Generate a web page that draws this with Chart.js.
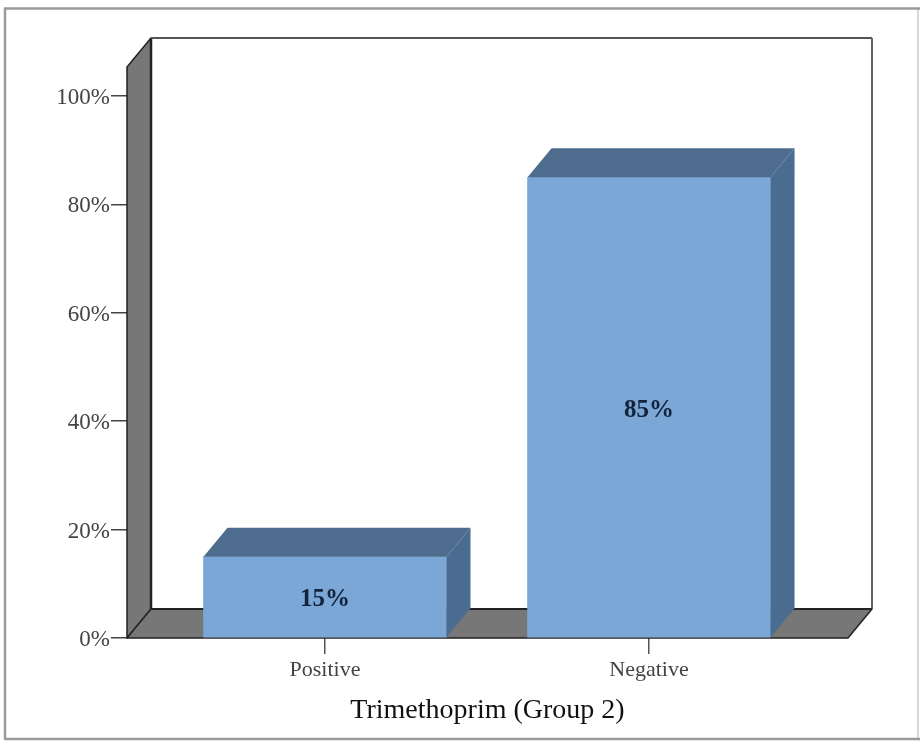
<!DOCTYPE html>
<html><head><meta charset="utf-8">
<style>html,body{margin:0;padding:0;background:#fff}#w{width:920px;height:741px;position:relative}canvas{filter:blur(0.5px)}</style>
<script src="https://cdn.jsdelivr.net/npm/chart.js@4"></script>
</head><body><div id="w"><canvas id="c"></canvas></div>
<script>
const categories = ["Positive", "Negative"];
const percentages = [15, 85];
const yTicks = [0, 20, 40, 60, 80, 100];
const xTitle = "Trimethoprim (Group 2)";
const FONT = '"Liberation Serif", serif';
const DX = 24, DY = -29;
const FRONT = '#7aa7d5', TOP = '#4e6c8e', SIDE = '#4a6c90', WALL = '#777777', LINE = '#222222';

function poly(ctx, pts, fill, stroke, lw) {
  ctx.beginPath();
  pts.forEach((p, i) => i ? ctx.lineTo(p[0], p[1]) : ctx.moveTo(p[0], p[1]));
  ctx.closePath();
  if (fill) { ctx.fillStyle = fill; ctx.fill(); }
  if (stroke) { ctx.strokeStyle = stroke; ctx.lineWidth = lw || 1.5; ctx.lineJoin = 'round'; ctx.stroke(); }
}
function seg(c, x1, y1, x2, y2, color, w) {
  c.strokeStyle = color; c.lineWidth = w;
  c.beginPath(); c.moveTo(x1, y1); c.lineTo(x2, y2); c.stroke();
}
const box3d = {
  id: 'box3d',
  beforeDraw(chart) {
    const c = chart.ctx;
    c.save();
    seg(c, 918, 8.5, 918, 739, '#d8d8d8', 2);
    seg(c, 4, 8.5, 920, 8.5, '#9a9a9a', 2.5);
    seg(c, 5, 8.5, 5, 739, '#9a9a9a', 2.5);
    seg(c, 4, 739, 920, 739, '#9a9a9a', 2.5);
    c.restore();
  },
  beforeDatasetsDraw(chart) {
    const c = chart.ctx, a = chart.chartArea;
    const L = a.left, R = a.right, T = a.top, B = a.bottom;
    c.save();
    poly(c, [[L, T], [L + DX, T + DY], [L + DX, B + DY], [L, B]], WALL, LINE, 1.5);
    poly(c, [[L, B], [L + DX, B + DY], [R + DX, B + DY], [R, B]], WALL, LINE, 1.5);
    seg(c, L + DX, B + DY, L + DX, T + DY, LINE, 2.5);
    seg(c, L + DX, T + DY, R + DX, T + DY, '#555', 2);
    seg(c, R + DX, T + DY, R + DX, B + DY, '#666', 2);
    seg(c, L + DX, B + DY, R + DX, B + DY, LINE, 2);
    c.restore();
  },
  afterDatasetsDraw(chart) {
    const c = chart.ctx;
    const bars = chart.getDatasetMeta(0).data;
    c.save();
    bars.forEach((b, i) => {
      const l = b.x - b.width / 2, r = b.x + b.width / 2, t = b.y, bt = b.base;
      poly(c, [[l, t], [l + DX, t + DY], [r + DX, t + DY], [r, t]], TOP);
      poly(c, [[r, t], [r + DX, t + DY], [r + DX, bt + DY], [r, bt]], SIDE);
      c.fillStyle = '#14233c';
      c.font = 'bold 25px ' + FONT;
      c.textAlign = 'center'; c.textBaseline = 'middle';
      c.fillText(percentages[i] + '%', b.x, (t + bt) / 2 + 3);
    });
    c.restore();
  }
};
new Chart(document.getElementById('c'), {
  type: 'bar',
  plugins: [box3d],
  data: {
    datasets: [{
      data: categories.map((_, i) => ({ x: i, y: percentages[i] })),
      backgroundColor: FRONT,
      borderWidth: 0,
      barThickness: 243
    }]
  },
  options: {
    responsive: true, maintainAspectRatio: false, animation: false,
    layout: { padding: { top: 67, right: 72, left: 0, bottom: 0 } },
    plugins: { legend: { display: false }, tooltip: { enabled: false }, title: { display: false } },
    scales: {
      x: {
        type: 'linear', offset: false, min: -0.611, max: 1.614,
        afterBuildTicks(s) { s.ticks = categories.map((_, i) => ({ value: i })); },
        afterFit(s) { s.height = 103; },
        grid: { offset: false, drawOnChartArea: false, drawTicks: true, tickLength: 16, color: '#555', lineWidth: 1.5 },
        border: { display: false },
        ticks: { autoSkip: false, maxRotation: 0, padding: 3, color: '#444', font: { family: FONT, size: 22 },
                 callback: v => categories[v] },
        title: { display: true, text: xTitle, color: '#111', font: { family: FONT, size: 28 }, padding: { top: 4, bottom: 14 } }
      },
      y: {
        min: 0, max: 105.35,
        afterBuildTicks(s) { s.ticks = yTicks.map(v => ({ value: v })); },
        afterFit(s) { s.width = 127; },
        grid: { drawOnChartArea: false, drawTicks: true, tickLength: 16, color: '#444', lineWidth: 1.5 },
        border: { display: false },
        ticks: { padding: 1, labelOffset: 2, color: '#444', font: { family: FONT, size: 23 }, callback: v => v + '%' }
      }
    }
  }
});
</script></body></html>
